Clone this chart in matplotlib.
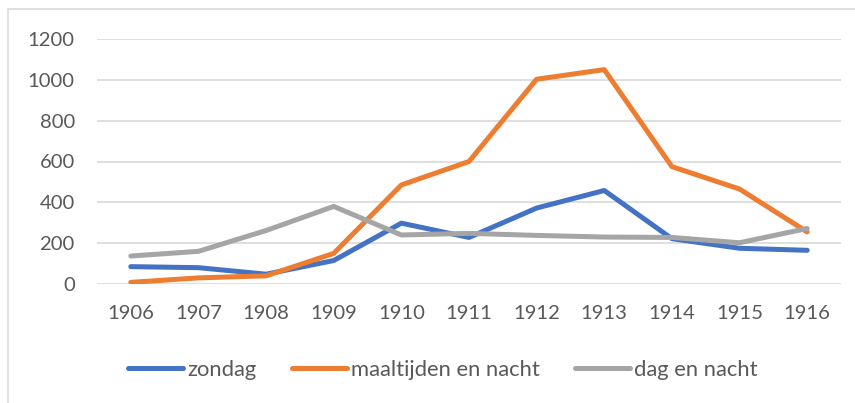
import matplotlib.pyplot as plt
from matplotlib.patches import Rectangle

# data
years = ['1906', '1907', '1908', '1909', '1910', '1911', '1912', '1913', '1914', '1915', '1916']
zondag = [85, 80, 48, 115, 298, 228, 372, 458, 222, 175, 165]
maaltijden_en_nacht = [8, 30, 40, 150, 485, 600, 1003, 1050, 575, 465, 255]
dag_en_nacht = [137, 160, 262, 380, 240, 248, 238, 230, 228, 202, 272]
y_ticks = [0, 200, 400, 600, 800, 1000, 1200]

plt.rcParams['font.family'] = ['Lato', 'DejaVu Sans']
text_color = '#595959'

fig = plt.figure(figsize=(8.55, 4.03), dpi=100)
ax = fig.add_axes([97 / 855, 1 - 284 / 403, (841 - 97) / 855, (284 - 39) / 403])

x = range(len(years))
ax.plot(x, zondag, color='#4472C4', lw=3.6, solid_capstyle='round', label='zondag')
ax.plot(x, maaltijden_en_nacht, color='#ED7D31', lw=3.6, solid_capstyle='round',
        label='maaltijden en nacht')
ax.plot(x, dag_en_nacht, color='#A5A5A5', lw=3.6, solid_capstyle='round', label='dag en nacht')

ax.set_xlim(-0.5, len(years) - 0.5)
ax.set_ylim(0, 1200)
ax.set_xticks(list(x))
ax.set_xticklabels(years)
ax.set_yticks(y_ticks)
ax.yaxis.grid(True, color='#D9D9D9', lw=1.2)
ax.set_axisbelow(True)
for s in ax.spines.values():
    s.set_visible(False)
ax.tick_params(axis='both', length=0, labelsize=14.6, labelcolor=text_color)
ax.tick_params(axis='x', pad=15)
ax.tick_params(axis='y', pad=16)

fig.legend(loc='center', bbox_to_anchor=(443 / 855, 1 - 370 / 403), ncol=3, frameon=False,
           fontsize=15.8, labelcolor=text_color, handlelength=2.5, handletextpad=0.2,
           columnspacing=1.6)

# light chart border (right and bottom edges fall outside the crop)
fig.patches.append(Rectangle((8 / 855, -0.05), 1.1, 1 - 9 / 403 + 0.05, transform=fig.transFigure,
                             fill=False, edgecolor='#D9D9D9', lw=1.2))

fig.savefig('out.png', dpi=100)
